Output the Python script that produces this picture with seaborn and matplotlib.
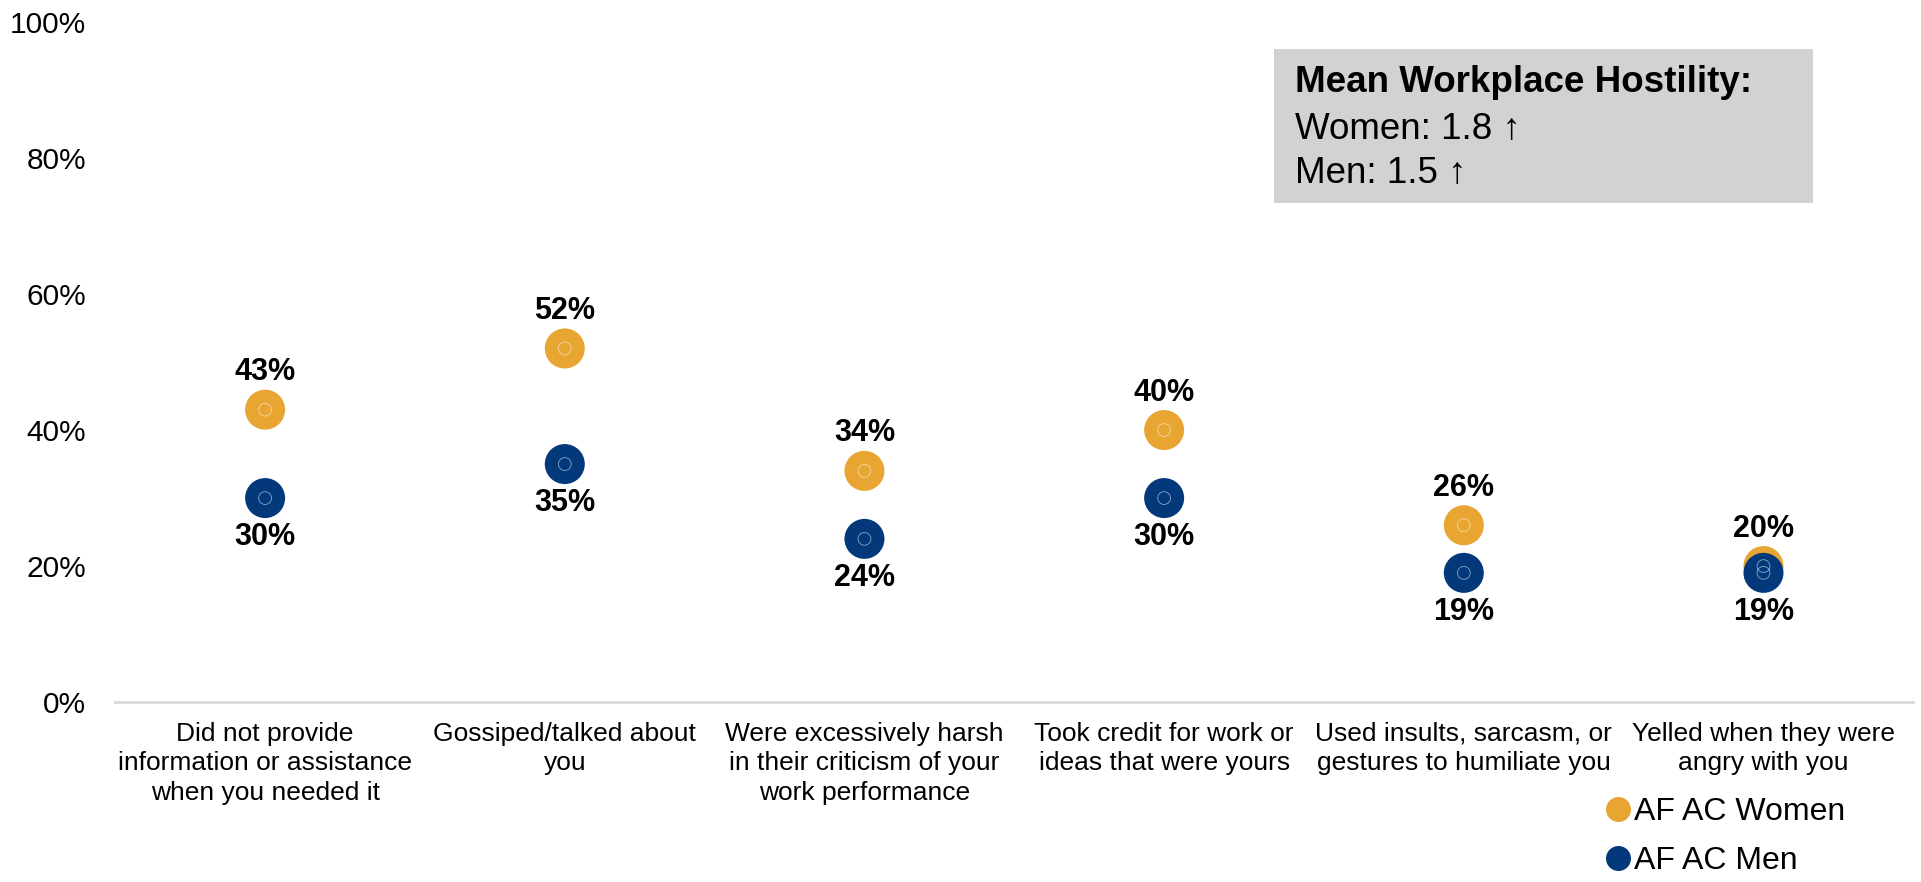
import matplotlib
matplotlib.use("Agg")
import matplotlib.pyplot as plt
from matplotlib.lines import Line2D
from matplotlib.patches import Rectangle
import seaborn as sns
import pandas as pd

categories = [
    "Did not provide\ninformation or assistance\nwhen you needed it",
    "Gossiped/talked about\nyou",
    "Were excessively harsh\nin their criticism of your\nwork performance",
    "Took credit for work or\nideas that were yours",
    "Used insults, sarcasm, or\ngestures to humiliate you",
    "Yelled when they were\nangry with you",
]
women = [43, 52, 34, 40, 26, 20]
men = [30, 35, 24, 30, 19, 19]
groups = ["AF AC Women", "AF AC Men"]
colors = {"AF AC Women": "#E8A532", "AF AC Men": "#03397A"}
yticks = [0, 20, 40, 60, 80, 100]
box_title = "Mean Workplace Hostility:"
box_lines = ["Women: 1.8 \u2191", "Men: 1.5 \u2191"]

df = pd.DataFrame({
    "category": categories * 2,
    "pos": list(range(len(categories))) * 2,
    "value": women + men,
    "group": [groups[0]] * len(women) + [groups[1]] * len(men),
})

sns.set_theme(style="white")
plt.rcParams['font.family'] = ['Liberation Sans', 'DejaVu Sans']
plt.rcParams['text.color'] = 'black'

fig = plt.figure(figsize=(19.21, 8.82), dpi=100)
ax = fig.add_axes([0.060, 0.204, 0.936, 0.771])

sns.scatterplot(data=df, x="pos", y="value", hue="group", palette=colors,
                s=830, linewidth=0, legend=False, ax=ax, zorder=3)
# thin inner ring on each dot
ax.scatter(df["pos"], df["value"], s=85, facecolors="none",
           edgecolors="white", linewidths=0.6, alpha=0.55, zorder=4)

for i in range(len(categories)):
    ax.annotate(f"{women[i]}%", (i, women[i]), xytext=(0, 27), textcoords="offset points",
                ha="center", va="center", fontsize=22, fontweight="bold", color="black")
    ax.annotate(f"{men[i]}%", (i, men[i]), xytext=(0, -28), textcoords="offset points",
                ha="center", va="center", fontsize=22, fontweight="bold", color="black")

ax.set_xlim(-0.5, len(categories) - 0.5)
ax.set_ylim(0, 100)
ax.set_xticks(range(len(categories)))
ax.set_xticklabels(categories, fontsize=19, linespacing=1.3)
ax.set_yticks(yticks)
ax.set_yticklabels([f"{t}%" for t in yticks], fontsize=21.5)
ax.tick_params(axis="x", length=0, pad=14, colors="black")
ax.tick_params(axis="y", length=0, pad=21, colors="black")
ax.set_xlabel("")
ax.set_ylabel("")
for side in ["top", "right", "left"]:
    ax.spines[side].set_visible(False)
ax.spines["bottom"].set_color("#d9d9d9")
ax.spines["bottom"].set_linewidth(2)

# summary box
fig.patches.append(Rectangle((0.663, 0.770), 0.2806, 0.1746, transform=fig.transFigure,
                             facecolor="#d1d2d4", edgecolor="none", zorder=0))
fig.text(0.674, 1 - 83 / 882, box_title, fontsize=26.5, fontweight="bold", va="center", color="black")
fig.text(0.674, 1 - 129 / 882, box_lines[0], fontsize=26.5, va="center", color="black")
fig.text(0.674, 1 - 174 / 882, box_lines[1], fontsize=26.5, va="center", color="black")

handles = [Line2D([0], [0], marker="o", linestyle="none", markersize=18,
                  markerfacecolor=colors[g], markeredgewidth=0) for g in groups]
leg = ax.legend(handles, groups, loc="upper left", bbox_to_anchor=(0.8355, 0.0964),
                bbox_transform=fig.transFigure, frameon=False, fontsize=23,
                handlelength=0.8, handletextpad=0.1, labelspacing=0.6, borderpad=0,
                borderaxespad=0)
for t in leg.get_texts():
    t.set_color("black")

fig.savefig("out.png", dpi=100)
